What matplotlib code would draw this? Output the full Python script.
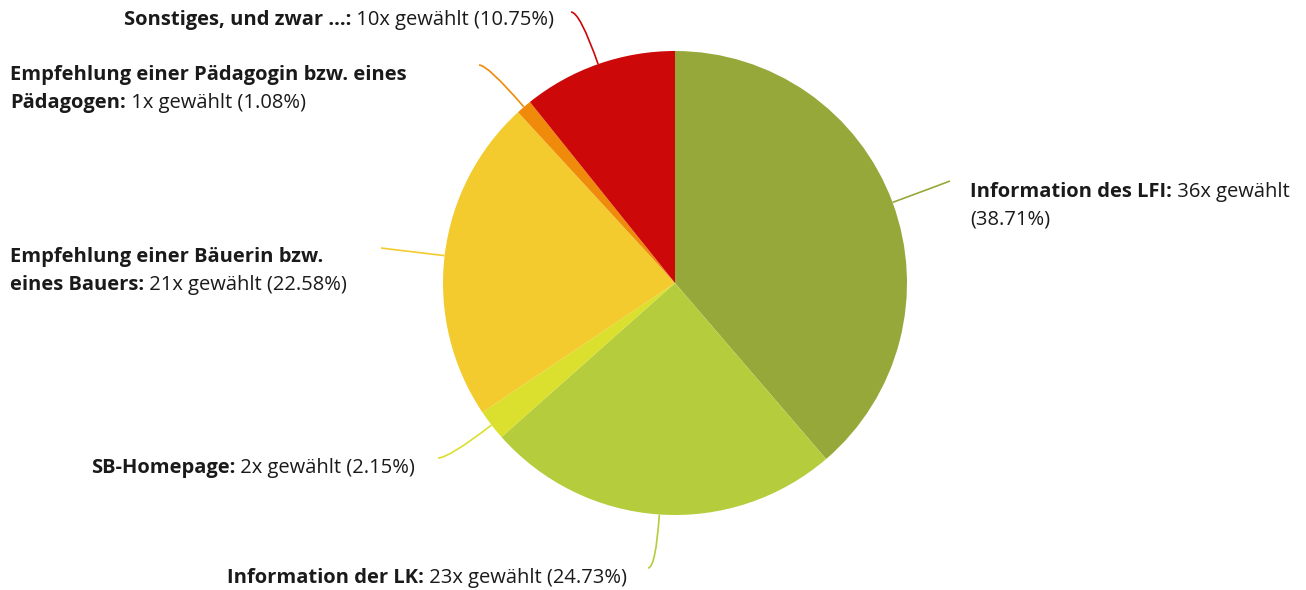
import numpy as np
import matplotlib.pyplot as plt
from matplotlib.path import Path
from matplotlib.patches import PathPatch

plt.rcParams['font.family'] = ['Open Sans', 'DejaVu Sans']

# Daten
kategorien = ['Information des LFI', 'Information der LK', 'SB-Homepage',
              'Empfehlung einer Bäuerin bzw. eines Bauers',
              'Empfehlung einer Pädagogin bzw. eines Pädagogen',
              'Sonstiges, und zwar ...']
anzahl = [36, 23, 2, 21, 1, 10]
farben = ['#97a83b', '#b5cc3d', '#dae02d', '#f3cb2e', '#ef8a0b', '#cc0808']

# Beschriftung: Zeilen als (fett, normal), Position in Pixel (x links, Grundlinie y)
zeilen = [
    [('Information des LFI:', ' {n}x gewählt'), ('', '({p})')],
    [('Information der LK:', ' {n}x gewählt ({p})')],
    [('SB-Homepage:', ' {n}x gewählt ({p})')],
    [('Empfehlung einer Bäuerin bzw.', ''), ('eines Bauers:', ' {n}x gewählt ({p})')],
    [('Empfehlung einer Pädagogin bzw. eines', ''), ('Pädagogen:', ' {n}x gewählt ({p})')],
    [('Sonstiges, und zwar ...:', ' {n}x gewählt ({p})')],
]
text_pos = [(970, 197), (227, 583), (91, 473), (10, 262), (10, 80), (124, 25)]
linien_ende = [(950, 181), (648, 568), (438, 458), (381, 248), (479, 65), (571, 12)]

W, H = 1306, 590
fig = plt.figure(figsize=(W/100, H/100), dpi=100)
ax = fig.add_axes([0, 0, 1, 1])

cx, cy, r = 675, H - 283, 232
wedges, _ = ax.pie(anzahl, colors=farben, startangle=90, counterclock=False,
                   center=(cx, cy), radius=r, frame=True,
                   wedgeprops=dict(linewidth=0))
ax.set_xlim(0, W)
ax.set_ylim(0, H)
ax.set_aspect('equal')
ax.axis('off')

renderer = fig.canvas.get_renderer()
summe = sum(anzahl)
fs = 14.5
for i, w in enumerate(wedges):
    # Verbindungslinie
    th = np.deg2rad((w.theta1 + w.theta2) / 2)
    dx, dy = np.cos(th), np.sin(th)
    x0, y0 = cx + r*dx, cy + r*dy
    ex, ey = linien_ende[i]
    ey = H - ey
    if abs(dy) > 1e-6:
        kx = x0 + (ey - y0) / dy * dx
    else:
        kx = ex
    pfad = Path([(x0, y0), (kx, ey), (ex, ey)], [Path.MOVETO, Path.CURVE3, Path.CURVE3])
    ax.add_patch(PathPatch(pfad, fill=False, edgecolor=farben[i], linewidth=1.2))

    # Text
    p = '%.2f%%' % (anzahl[i] / summe * 100)
    tx, ty = text_pos[i]
    for k, (fett, normal) in enumerate(zeilen[i]):
        y = H - ty - k*28
        breite = 0
        if fett:
            t1 = ax.text(tx, y, fett, fontsize=fs, fontweight='bold',
                         color='#1a1a1a', va='baseline', ha='left')
            breite = t1.get_window_extent(renderer).width
        if normal:
            ax.text(tx + breite, y, normal.format(n=anzahl[i], p=p), fontsize=fs,
                    color='#1a1a1a', va='baseline', ha='left')

fig.savefig('out.png', dpi=100)
